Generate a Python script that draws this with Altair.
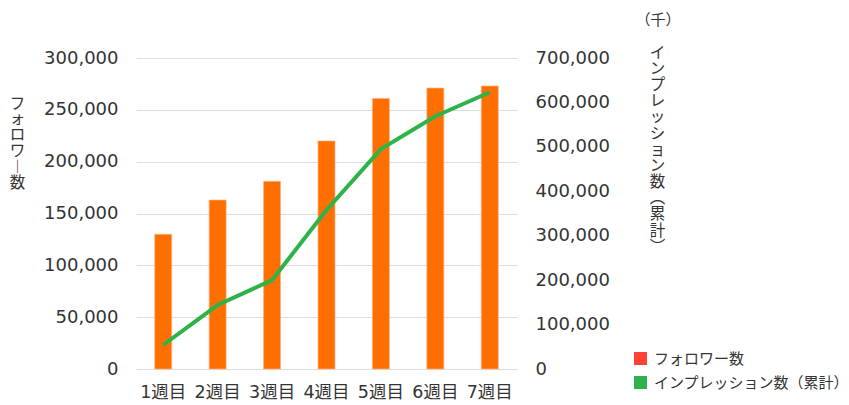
import altair as alt
import pandas as pd

weeks = ["1週目", "2週目", "3週目", "4週目", "5週目", "6週目", "7週目"]
followers = [130000, 163000, 181000, 220000, 261000, 271000, 273000]
impressions = [54000, 144000, 200000, 358000, 495000, 569000, 623000]

series_names = ["フォロワー数", "インプレッション数（累計）"]
legend_colors = ["#FF4136", "#2DB34A"]
left_title = ["フ", "ォ", "ロ", "ワ", "︱", "数"]
right_title = ["イ", "ン", "プ", "レ", "ッ", "シ", "ョ", "ン", "数", "︵", "累", "計", "︶"]
unit_label = ["（千）"]
left_ticks = [0, 50000, 100000, 150000, 200000, 250000, 300000]
right_ticks = [0, 100000, 200000, 300000, 400000, 500000, 600000, 700000]

df = pd.DataFrame({"week": weeks, "followers": followers, "impressions": impressions})
legend_df = pd.DataFrame({"series": series_names})
unit_df = pd.DataFrame({"t": unit_label})

FONT = "DejaVu Sans, Noto Sans CJK JP"
CJK = "Noto Sans CJK JP"
TXT = "#333333"

x = alt.X("week:N", sort=weeks, title=None,
          scale=alt.Scale(paddingInner=0, paddingOuter=0),
          axis=alt.Axis(labelAngle=0, labelFontSize=17.5, labelFont=FONT, labelColor=TXT,
                        labelPadding=14, ticks=False, domain=False, grid=False))

bars = alt.Chart(df).mark_bar(size=17, color="#FF6F00", stroke="#FFB380", strokeWidth=0.7).encode(
    x=x,
    y=alt.Y("followers:Q",
            scale=alt.Scale(domain=[0, 300000], nice=False),
            axis=alt.Axis(orient="left", values=left_ticks, format=",.0f", title=left_title,
                          titleAngle=0, titleAlign="center", titleBaseline="top",
                          titleX=-119, titleY=38, titleFont=CJK, titleFontSize=15.5,
                          titleLineHeight=15.8, titleFontWeight="normal", titleColor=TXT,
                          labelFontSize=18, labelFont=FONT, labelColor=TXT, labelPadding=18,
                          ticks=False, domain=False, grid=True, gridColor="#dcdcdc",
                          gridWidth=1)),
)

line = alt.Chart(df).mark_line(color="#2DB34A", strokeWidth=4).encode(
    x=x,
    y=alt.Y("impressions:Q",
            scale=alt.Scale(domain=[0, 700000], nice=False),
            axis=alt.Axis(orient="right", values=right_ticks, format=",.0f", title=right_title,
                          titleAngle=0, titleAlign="center", titleBaseline="top",
                          titleX=140, titleY=-13, titleFont=CJK, titleFontSize=15.5,
                          titleLineHeight=16.2, titleFontWeight="normal", titleColor=TXT,
                          labelFontSize=18, labelFont=FONT, labelColor=TXT, labelPadding=18,
                          ticks=False, domain=False, grid=False)),
)

legend_layer = alt.Chart(legend_df).mark_square(opacity=0).encode(
    color=alt.Color("series:N",
                    scale=alt.Scale(domain=series_names, range=legend_colors),
                    legend=alt.Legend(title=None, orient="none", legendX=497, legendY=293,
                                      symbolType="square", symbolSize=170, symbolStrokeWidth=0,
                                      symbolOpacity=1, labelFont=CJK, labelFontSize=15,
                                      labelColor=TXT, labelOffset=6, rowPadding=8, padding=0,
                                      labelLimit=400)),
)

unit_text = alt.Chart(unit_df).mark_text(font=CJK, fontSize=15, color=TXT, align="center",
                                         baseline="middle").encode(
    text="t:N", x=alt.value(522), y=alt.value(-38))

chart = alt.layer(bars, line, legend_layer, unit_text).resolve_scale(
    y="independent", color="independent"
).properties(
    width=381, height=311,
    autosize=alt.AutoSizeParams(type="none"),
    padding={"left": 128, "top": 50, "right": 324, "bottom": 34},
).configure_view(stroke=None)

chart.save("out.html", embed_options={"renderer": "svg", "actions": False})
